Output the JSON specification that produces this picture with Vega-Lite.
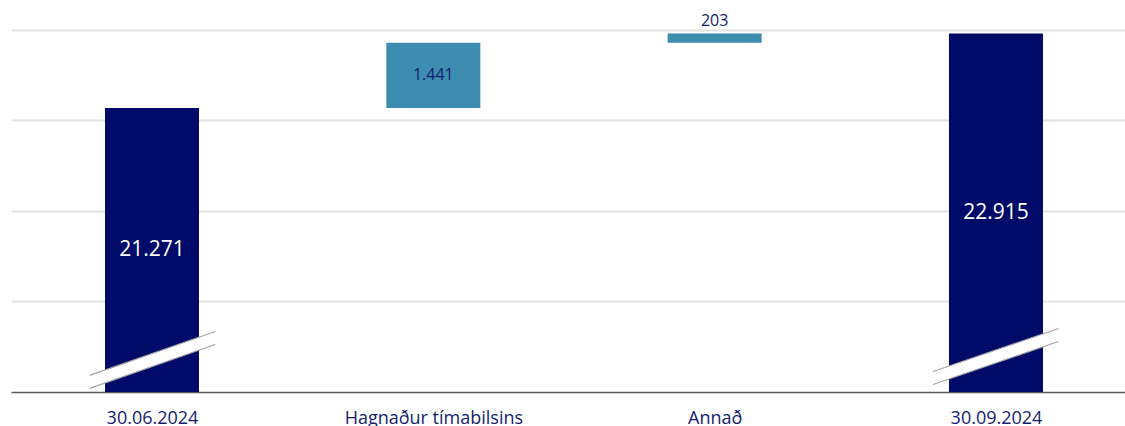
{
  "$schema": "https://vega.github.io/schema/vega-lite/v6.json",
  "width": 1114,
  "height": 385,
  "autosize": {"type": "none"},
  "padding": {"left": 11, "top": 7, "right": 0, "bottom": 34},
  "background": "white",
  "config": {"view": {"stroke": null}, "font": "Open Sans"},
  "datasets": {
    "bars": [
      {"cat": "30.06.2024", "idx": 0, "start": 0, "end": 21271, "label": "21.271", "type": "total"},
      {"cat": "Hagnaður tímabilsins", "idx": 1, "start": 21271, "end": 22712, "label": "1.441", "type": "delta"},
      {"cat": "Annað", "idx": 2, "start": 22712, "end": 22915, "label": "203", "type": "delta"},
      {"cat": "30.09.2024", "idx": 3, "start": 0, "end": 22915, "label": "22.915", "type": "total"}
    ],
    "breaks": [
      {"idx": 0, "xa": -0.2215, "xb": 0.2247, "ya": 15225, "yb": 16192},
      {"idx": 3, "xa": 2.776, "xb": 3.2222, "ya": 15309, "yb": 16258}
    ]
  },
  "layer": [
    {
      "data": {"name": "bars"},
      "mark": {"type": "bar", "width": 94, "clip": true},
      "encoding": {
        "x": {
          "field": "idx",
          "type": "quantitative",
          "scale": {"domain": [-0.5012, 3.4586], "nice": false, "zero": false, "padding": 0},
          "axis": {
            "values": [0, 1, 2, 3],
            "labelExpr": "['30.06.2024','Hagnaður tímabilsins','Annað','30.09.2024'][datum.value]",
            "title": null,
            "grid": false,
            "ticks": false,
            "domain": true,
            "domainColor": "#595959",
            "domainWidth": 1.5,
            "labelColor": "#141C6E",
            "labelFontSize": 18,
            "labelFont": "Open Sans",
            "labelBaseline": "alphabetic",
            "labelPadding": 31,
            "labelFlush": false,
            "labelOverlap": false
          }
        },
        "y": {
          "field": "end",
          "type": "quantitative",
          "scale": {"domain": [15000, 23500], "nice": false, "zero": false, "padding": 0},
          "axis": {
            "values": [17000, 19000, 21000, 23000],
            "title": null,
            "labels": false,
            "ticks": false,
            "domain": false,
            "grid": true,
            "gridColor": "#e3e3e3",
            "gridWidth": 2
          }
        },
        "y2": {"field": "start"},
        "color": {
          "field": "type",
          "type": "nominal",
          "scale": {"domain": ["total", "delta"], "range": ["#000A69", "#3D8DB0"]},
          "legend": null
        }
      }
    },
    {
      "data": {"name": "breaks"},
      "mark": {"type": "rule", "color": "white", "strokeWidth": 12, "strokeCap": "butt"},
      "encoding": {
        "x": {"field": "xa", "type": "quantitative"},
        "x2": {"field": "xb"},
        "y": {"field": "ya", "type": "quantitative"},
        "y2": {"field": "yb"}
      }
    },
    {
      "data": {"name": "breaks"},
      "mark": {"type": "rule", "color": "#a6a6a6", "strokeWidth": 1.2, "yOffset": -6.5, "y2Offset": -6.5},
      "encoding": {
        "x": {"field": "xa", "type": "quantitative"},
        "x2": {"field": "xb"},
        "y": {"field": "ya", "type": "quantitative"},
        "y2": {"field": "yb"}
      }
    },
    {
      "data": {"name": "breaks"},
      "mark": {"type": "rule", "color": "#a6a6a6", "strokeWidth": 1.2, "yOffset": 6.5, "y2Offset": 6.5},
      "encoding": {
        "x": {"field": "xa", "type": "quantitative"},
        "x2": {"field": "xb"},
        "y": {"field": "ya", "type": "quantitative"},
        "y2": {"field": "yb"}
      }
    },
    {
      "data": {"name": "bars"},
      "transform": [
        {"filter": "datum.type == 'total'"},
        {"calculate": "(15000 + datum.end) / 2", "as": "mid"}
      ],
      "mark": {"type": "text", "color": "white", "fontSize": 21, "baseline": "middle", "align": "center"},
      "encoding": {
        "x": {"field": "idx", "type": "quantitative"},
        "y": {"field": "mid", "type": "quantitative"},
        "text": {"field": "label"}
      }
    },
    {
      "data": {"name": "bars"},
      "transform": [
        {"filter": "datum.idx == 1"},
        {"calculate": "(datum.start + datum.end) / 2", "as": "mid"}
      ],
      "mark": {"type": "text", "color": "#141C6E", "fontSize": 16, "baseline": "middle", "align": "center"},
      "encoding": {
        "x": {"field": "idx", "type": "quantitative"},
        "y": {"field": "mid", "type": "quantitative"},
        "text": {"field": "label"}
      }
    },
    {
      "data": {"name": "bars"},
      "transform": [{"filter": "datum.idx == 2"}],
      "mark": {"type": "text", "color": "#141C6E", "fontSize": 16, "baseline": "alphabetic", "align": "center", "dy": -7},
      "encoding": {
        "x": {"field": "idx", "type": "quantitative"},
        "y": {"field": "end", "type": "quantitative"},
        "text": {"field": "label"}
      }
    }
  ]
}
